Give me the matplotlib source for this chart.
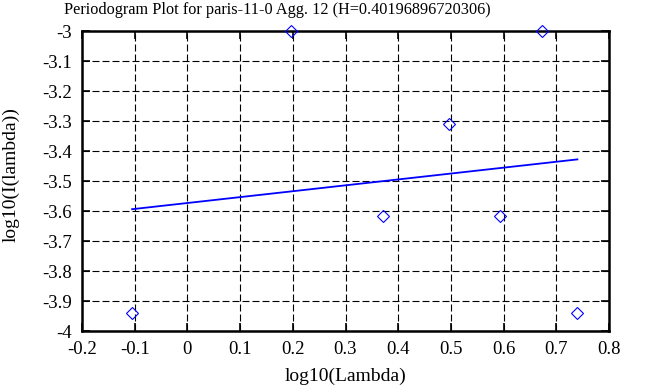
import numpy as np
import matplotlib.pyplot as plt

plt.rcParams['font.family'] = ['Liberation Serif', 'DejaVu Serif']

# periodogram points (log10 lambda, log10 I(lambda))
log_lambda = [-0.105, 0.196, 0.372, 0.497, 0.594, 0.673, 0.740]
log_I = [-3.94, -3.0, -3.617, -3.31, -3.617, -3.0, -3.94]

# fitted line end points
fit_x = [-0.105, 0.740]
fit_y = [-3.594, -3.428]

x_ticks = [-0.2, -0.1, 0, 0.1, 0.2, 0.3, 0.4, 0.5, 0.6, 0.7, 0.8]
x_labels = ['-0.2', '-0.1', '0', '0.1', '0.2', '0.3', '0.4', '0.5', '0.6', '0.7', '0.8']
y_ticks = [-4, -3.9, -3.8, -3.7, -3.6, -3.5, -3.4, -3.3, -3.2, -3.1, -3]
y_labels = ['-4', '-3.9', '-3.8', '-3.7', '-3.6', '-3.5', '-3.4', '-3.3', '-3.2', '-3.1', '-3']

W, H = 653, 387
fig = plt.figure(figsize=(W / 100, H / 100), dpi=100)
ax = fig.add_axes([82 / W, 1 - 331 / H, 527 / W, 300 / H])

ax.plot(log_lambda, log_I, linestyle='none', marker='D', markersize=6.6,
        markerfacecolor='none', markeredgecolor='#0000ff', markeredgewidth=0.8,
        clip_on=False, zorder=3)
ax.plot(fit_x, fit_y, color='#0000ff', linewidth=1.3, zorder=3)

ax.set_xlim(-0.2, 0.8)
ax.set_ylim(-4, -3)
ax.set_xticks(x_ticks)
ax.set_xticklabels(x_labels)
ax.set_yticks(y_ticks)
ax.set_yticklabels(y_labels)
ax.tick_params(direction='in', length=6, width=1.2, top=True, right=True,
               labelsize=13.5, colors='black')
ax.tick_params(axis='y', pad=7)
ax.tick_params(axis='x', pad=7)
ax.grid(True, color='black', linestyle=(0, (6.3, 2.7)), linewidth=0.8)
for s in ax.spines.values():
    s.set_linewidth(1.8)

fig.text(277 / W, 1 - 10 / H, 'Periodogram Plot for paris-11-0 Agg. 12 (H=0.40196896720306)',
         fontsize=11.7, ha='center', va='center')
fig.text(346 / W, 1 - 376 / H, 'log10(Lambda)', fontsize=14, ha='center', va='center')
fig.text(11 / W, 1 - 175 / H, 'log10(I(lambda))', fontsize=14, ha='center', va='center',
         rotation=90)

fig.savefig('out.png', dpi=100)
